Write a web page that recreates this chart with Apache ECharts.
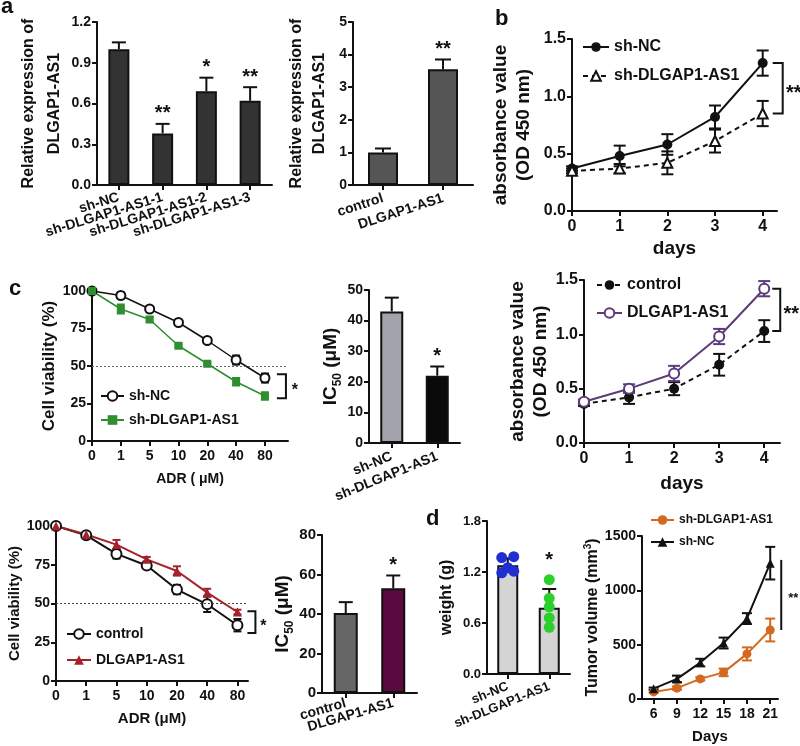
<!DOCTYPE html>
<html><head><meta charset="utf-8">
<script src="https://cdn.jsdelivr.net/npm/echarts@6/dist/echarts.min.js"></script>
<style>html,body{margin:0;padding:0;background:#fff}#c{width:800px;height:746px}</style>
</head><body><div id="c"></div>
<script>
// ---------------- DATA ----------------
// a (left): knockdown efficiency
const aCats = ['sh-NC', 'sh-DLGAP1-AS1-1', 'sh-DLGAP1-AS1-2', 'sh-DLGAP1-AS1-3'];
const aVals = [1.00, 0.38, 0.69, 0.62];
const aErrs = [0.05, 0.07, 0.10, 0.10];
const aSig  = ['', '**', '*', '**'];
// a (right): overexpression
const a2Cats = ['control', 'DLGAP1-AS1'];
const a2Vals = [1.00, 3.55];
const a2Errs = [0.12, 0.30];
const a2Sig  = ['', '**'];
// b: CCK-8 knockdown
const days = [0, 1, 2, 3, 4];
const bNC = [0.37, 0.48, 0.58, 0.82, 1.29];
const bNCErr = [0.02, 0.09, 0.09, 0.10, 0.11];
const bKD = [0.35, 0.37, 0.42, 0.61, 0.85];
const bKDErr = [0.02, 0.04, 0.10, 0.10, 0.11];
// c: viability knockdown
const adrLabels = ['0', '1', '5', '10', '20', '40', '80'];
const adrIdx = [0, 1, 2, 3, 4, 5, 6];
const cNC = [100, 97, 88, 79, 67, 54, 42];
const cNCErr = [0, 2, 1.5, 1, 1, 3, 3];
const cKD = [100, 88, 81, 63.5, 51.5, 39.5, 30];
const cKDErr = [0, 3, 1.5, 1, 1, 2.5, 2.5];
// c: IC50 knockdown
const icCats = ['sh-NC', 'sh-DLGAP1-AS1'];
const icVals = [43, 22];
const icErrs = [4.5, 3];
const icSig = ['', '*'];
// CCK-8 overexpression
const crCtrl = [0.36, 0.42, 0.50, 0.72, 1.03];
const crCtrlErr = [0.02, 0.06, 0.06, 0.10, 0.10];
const crOE = [0.38, 0.50, 0.64, 0.98, 1.42];
const crOEErr = [0.02, 0.04, 0.07, 0.07, 0.07];
// viability overexpression
const blCtrl = [100, 94, 82, 74.5, 59, 49.5, 36];
const blCtrlErr = [0, 1.5, 3, 1.5, 3, 5, 4];
const blOE = [100, 94.5, 88, 78.5, 71, 57, 44.5];
const blOEErr = [0, 1.5, 3, 1.5, 3, 2.5, 1.5];
// IC50 overexpression
const ic2Cats = ['control', 'DLGAP1-AS1'];
const ic2Vals = [40.5, 53];
const ic2Errs = [5.5, 6.5];
const ic2Sig = ['', '*'];
// d: tumour weight
const wCats = ['sh-NC', 'sh-DLGAP1-AS1'];
const wMean = [1.28, 0.78];
const wErr = [0.08, 0.22];
const wNC = [1.37, 1.38, 1.25, 1.21, 1.19];
const wKD = [1.11, 0.89, 0.79, 0.66, 0.55];
const wSig = ['', '*'];
// d: tumour volume
const tDays = [6, 9, 12, 15, 18, 21];
const tKD = [65, 100, 185, 245, 415, 635];
const tKDErr = [10, 15, 15, 35, 60, 105];
const tNC = [95, 185, 335, 515, 740, 1250];
const tNCErr = [10, 30, 35, 50, 50, 150];

// ---------------- STYLE / HELPERS ----------------
const FONT = '"Liberation Sans", Arial, Helvetica, sans-serif';
const INK = '#111';
const GREEN = '#2d8f2d', PURPLE = '#5e3a78', DRED = '#a3232a', MAGENTA = '#5a0a3f', ORANGE = '#d2691e';
const grids = [], xAxes = [], yAxes = [], series = [], legends = [];
const AXL = {show: true, onZero: false, lineStyle: {color: INK, width: 2}};
const tick = e => Object.assign({show: true, length: 5, lineStyle: {color: INK, width: 2}}, e || {});
const lab = (fs, e) => Object.assign({color: INK, fontWeight: 'bold', fontSize: fs, fontFamily: FONT}, e || {});
const ns = (fs, e) => Object.assign({color: INK, fontWeight: 'bold', fontSize: fs, fontFamily: FONT}, e || {});

function panel(box, xa, ya) {
  const gi = grids.length;
  grids.push({left: box[0], top: box[1], width: box[2], height: box[3]});
  xa.gridIndex = gi; ya.gridIndex = gi;
  xAxes.push(xa); yAxes.push(ya);
  return {x: xAxes.length - 1, y: yAxes.length - 1};
}
function catX(cats, fs, rot, margin) {
  return {type: 'category', data: cats, axisLine: AXL, axisTick: tick({alignWithLabel: true}),
    axisLabel: lab(fs, {interval: 0, rotate: rot, margin: margin || 8}), splitLine: {show: false}};
}
function valX(min, max, ticks, fs, fmt, name, gap, nfs) {
  return {type: 'value', min, max, axisLine: AXL, axisTick: tick({customValues: ticks}),
    axisLabel: lab(fs, {customValues: ticks, formatter: fmt, margin: 8}), splitLine: {show: false},
    name, nameLocation: 'middle', nameGap: gap, nameTextStyle: ns(nfs)};
}
function valY(min, max, interval, fs, fmt, name, gap, nstyle) {
  return {type: 'value', min, max, interval, axisLine: AXL, axisTick: tick(),
    axisLabel: lab(fs, {formatter: fmt, margin: 6}), splitLine: {show: false},
    name, nameLocation: 'middle', nameRotate: 90, nameGap: gap, nameTextStyle: nstyle};
}
function bars(p, vals, w, colors) {
  series.push({type: 'bar', xAxisIndex: p.x, yAxisIndex: p.y, barWidth: w, z: 2, silent: true,
    data: vals.map((v, i) => ({value: v, itemStyle: {color: colors[i % colors.length], borderColor: INK, borderWidth: 2}}))});
}
function errs(p, xs, ys, es, color, cap, both) {
  series.push({type: 'custom', xAxisIndex: p.x, yAxisIndex: p.y, z: 3, silent: true,
    encode: {x: 0, y: [1, 2]},
    data: xs.map((x, i) => [x, ys[i] - (both ? es[i] : 0), ys[i] + es[i]]),
    renderItem: (params, api) => {
      const a = api.coord([api.value(0), api.value(1)]), b = api.coord([api.value(0), api.value(2)]);
      if (Math.abs(a[1] - b[1]) < 0.5) return null;
      const st = {stroke: color, lineWidth: 2};
      const ch = [
        {type: 'line', shape: {x1: a[0], y1: a[1], x2: b[0], y2: b[1]}, style: st},
        {type: 'line', shape: {x1: b[0] - cap, y1: b[1], x2: b[0] + cap, y2: b[1]}, style: st}];
      if (both) ch.push({type: 'line', shape: {x1: a[0] - cap, y1: a[1], x2: a[0] + cap, y2: a[1]}, style: st});
      return {type: 'group', children: ch};
    }});
}
function sig(p, xs, tops, texts, fs, dy) {
  series.push({type: 'custom', xAxisIndex: p.x, yAxisIndex: p.y, z: 5, silent: true,
    encode: {x: 0, y: 1},
    data: xs.map((x, i) => [x, tops[i], i]),
    renderItem: (params, api) => {
      const t = texts[api.value(2)];
      if (!t) return null;
      const c = api.coord([api.value(0), api.value(1)]);
      return {type: 'text', x: c[0], y: c[1] - (dy || 0),
        style: {text: t, fill: INK, font: 'bold ' + fs + 'px ' + FONT, align: 'center', verticalAlign: 'bottom'}};
    }});
}
function bracket(p, x, yTop, yBot, o1, o2, text, fs, tx, caps) {
  series.push({type: 'custom', xAxisIndex: p.x, yAxisIndex: p.y, z: 5, silent: true,
    encode: {x: 0, y: [1, 2]},
    data: [[x, yTop, yBot]],
    renderItem: (params, api) => {
      const a = api.coord([api.value(0), api.value(1)]), b = api.coord([api.value(0), api.value(2)]);
      const st = {stroke: INK, lineWidth: 2, fill: null};
      const pts = caps ? [[a[0] + o1, a[1]], [a[0] + o2, a[1]], [a[0] + o2, b[1]], [a[0] + o1, b[1]]]
                       : [[a[0] + o2, a[1]], [a[0] + o2, b[1]]];
      return {type: 'group', children: [
        {type: 'polyline', shape: {points: pts}, style: st},
        {type: 'text', x: a[0] + o2 + tx, y: (a[1] + b[1]) / 2 + fs * 0.25,
          style: {text: text, fill: INK, font: 'bold ' + fs + 'px ' + FONT, align: 'center', verticalAlign: 'middle'}}]};
    }});
}
function line(p, name, xs, ys, color, symbol, size, dashed, width) {
  series.push({type: 'line', name, xAxisIndex: p.x, yAxisIndex: p.y, z: 4, silent: true,
    data: xs.map((x, i) => [x, ys[i]]), symbol, symbolSize: size, showAllSymbol: true,
    lineStyle: {color, width: width || 2, type: dashed ? [5, 4] : 'solid'},
    itemStyle: {color}});
}
function dots(p, cat, vals, spread, color, r) {
  series.push({type: 'custom', xAxisIndex: p.x, yAxisIndex: p.y, z: 6, silent: true,
    encode: {x: 0, y: 1},
    data: vals.map((v, i) => [cat, v, spread[i % spread.length]]),
    renderItem: (params, api) => {
      const c = api.coord([api.value(0), api.value(1)]);
      return {type: 'circle', shape: {cx: c[0] + api.value(2) * 6, cy: c[1], r}, style: {fill: color}};
    }});
}
function leg(names, left, top, fs, iw, gap) {
  legends.push({data: names, left, top, orient: 'vertical', padding: 0, itemWidth: iw, itemHeight: 12,
    itemGap: gap, selectedMode: false, formatter: n => n.split('|')[1],
    textStyle: {fontSize: fs, fontWeight: 'bold', color: INK, fontFamily: FONT}});
}
const f1 = v => v.toFixed(1);
const ic50Rich = (fs) => ({color: INK, fontFamily: FONT, rich: {
  a: {fontSize: fs, fontWeight: 'bold', color: INK, fontFamily: FONT, lineHeight: fs + 6},
  s: {fontSize: Math.round(fs * 0.65), fontWeight: 'bold', color: INK, fontFamily: FONT, verticalAlign: 'bottom', lineHeight: Math.round(fs * 0.65)}}});

// ---------------- PANELS ----------------
// a left
const pA = panel([97, 22, 175, 163], catX(aCats, 14, 17, 12),
  valY(0, 1.2, 0.3, 14, f1, 'Relative expression of\nDLGAP1-AS1', 26, ns(16, {lineHeight: 26})));
bars(pA, aVals, 21, ['#333']);
errs(pA, [0, 1, 2, 3], aVals, aErrs, INK, 7, false);
sig(pA, [0, 1, 2, 3], aVals.map((v, i) => v + aErrs[i]), aSig, 20, 0);

// a right
const pA2 = panel([353, 22, 120, 163], catX(a2Cats, 14, 18, 13),
  valY(0, 5, 1, 14, v => v, 'Relative expression of\nDLGAP1-AS1', 22, ns(16, {lineHeight: 23})));
bars(pA2, a2Vals, 30, ['#555']);
errs(pA2, [0, 1], a2Vals, a2Errs, INK, 8, false);
sig(pA2, [0, 1], a2Vals.map((v, i) => v + a2Errs[i]), a2Sig, 20, 0);

// b
const pB = panel([572, 39, 205, 172], valX(0, 4.3, days, 16, v => v, 'days', 28, 19),
  valY(0, 1.5, 0.5, 16, f1, 'absorbance value\n(OD 450 nm)', 37, ns(19, {lineHeight: 23})));
line(pB, 'b|sh-NC', days, bNC, INK, 'circle', 10, false);
line(pB, 'b|sh-DLGAP1-AS1', days, bKD, INK, 'emptyTriangle', 10, true);
errs(pB, days, bNC, bNCErr, INK, 6, true);
errs(pB, days, bKD, bKDErr, INK, 6, true);
bracket(pB, 4, bNC[4], bKD[4], 10, 20, '**', 20, 11, true);
leg(['b|sh-NC', 'b|sh-DLGAP1-AS1'], 582, 39, 16, 26, 13);

// c left viability
const pC = panel([92, 291, 196, 150], valX(0, 6.8, adrIdx, 14, v => adrLabels[v], 'ADR ( μM)', 31, 14),
  valY(0, 100, 25, 14, v => v, 'Cell viability (%)', 34, ns(17)));
line(pC, 'c|sh-NC', adrIdx, cNC, INK, 'emptyCircle', 9, false, 1.5);
line(pC, 'c|sh-DLGAP1-AS1', adrIdx, cKD, GREEN, 'rect', 8, false, 1.5);
series[series.length - 2].markLine = {silent: true, symbol: 'none', label: {show: false},
  lineStyle: {type: [2, 2], color: '#666', width: 1}, data: [{yAxis: 50}]};
errs(pC, adrIdx, cNC, cNCErr, INK, 4, true);
errs(pC, adrIdx, cKD, cKDErr, GREEN, 4, true);
bracket(pC, 6, 44.5, 28.5, 12, 21, '*', 16, 9, true);
leg(['c|sh-NC', 'c|sh-DLGAP1-AS1'], 100, 389, 14, 23, 10);

// c IC50
const pIC = panel([369, 290, 91, 153], catX(icCats, 14, 22, 13),
  valY(0, 50, 10, 14, v => v, '{a|IC}{s|50}{a| (μM)}', 25, ic50Rich(19)));
bars(pIC, icVals, 23, ['#a3a3ab', '#0a0a0a']);
errs(pIC, [0, 1], icVals, icErrs, INK, 7, false);
sig(pIC, [0, 1], icVals.map((v, i) => v + icErrs[i]), icSig, 20, 0);

// CCK-8 overexpression
const pCR = panel([584, 280, 196, 163], valX(0, 4.35, days, 16, v => v, 'days', 31, 19),
  valY(0, 1.5, 0.5, 16, f1, 'absorbance value\n(OD 450 nm)', 21, ns(19, {lineHeight: 23})));
line(pCR, 'r|control', days, crCtrl, INK, 'circle', 10, true);
line(pCR, 'r|DLGAP1-AS1', days, crOE, PURPLE, 'emptyCircle', 10, false);
errs(pCR, days, crCtrl, crCtrlErr, INK, 6, true);
errs(pCR, days, crOE, crOEErr, PURPLE, 6, true);
bracket(pCR, 4, crOE[4], crCtrl[4], 8, 16, '**', 20, 11, true);
leg(['r|control', 'r|DLGAP1-AS1'], 596, 277, 16, 25, 12);

// bottom viability
const pBL = panel([56, 526, 192, 155], valX(0, 6.35, adrIdx, 14, v => adrLabels[v], 'ADR (μM)', 30, 15),
  valY(0, 100, 25, 14, v => v, 'Cell viability (%)', 34, ns(15)));
line(pBL, 'l|control', adrIdx, blCtrl, INK, 'emptyCircle', 10, false);
line(pBL, 'l|DLGAP1-AS1', adrIdx, blOE, DRED, 'triangle', 9, false);
series[series.length - 2].markLine = {silent: true, symbol: 'none', label: {show: false},
  lineStyle: {type: [2, 2], color: '#444', width: 1}, data: [{yAxis: 50}]};
errs(pBL, adrIdx, blCtrl, blCtrlErr, INK, 4, true);
errs(pBL, adrIdx, blOE, blOEErr, DRED, 4, true);
bracket(pBL, 6, 45, 31, 10, 18, '*', 16, 8, true);
leg(['l|control', 'l|DLGAP1-AS1'], 66, 627, 14, 24, 12);

// bottom IC50
const pIC2 = panel([322, 535, 95, 158], catX(ic2Cats, 14, 16, 10),
  valY(0, 80, 20, 15, v => v, '{a|IC}{s|50}{a| (μM)}', 26, ic50Rich(19)));
bars(pIC2, ic2Vals, 24, ['#666666', MAGENTA]);
errs(pIC2, [0, 1], ic2Vals, ic2Errs, INK, 7, false);
sig(pIC2, [0, 1], ic2Vals.map((v, i) => v + ic2Errs[i]), ic2Sig, 20, 0);

// d weight
const pW = panel([487, 521, 83, 153], catX(wCats, 13, 22, 12),
  valY(0, 1.8, 0.6, 13, f1, 'weight (g)', 32, ns(16)));
bars(pW, wMean, 21, ['#d4d4d4']);
errs(pW, [0, 1], wMean, wErr, INK, 7, false);
dots(pW, 0, wNC, [-1, 1, 0, 1, -1], '#1f2fd1', 5.5);
dots(pW, 1, wKD, [0], '#2ccf2c', 5.5);
sig(pW, [0, 1], wMean.map((v, i) => v + wErr[i] + 0.22), wSig, 20, 0);

// d tumour volume
const pT = panel([642, 536, 136, 163], valX(4.5, 22, tDays, 14, v => v, 'Days', 30, 15),
  valY(0, 1500, 500, 14, v => v, '{a|Tumor volume (mm}{p|3}{a|)}', 35, {color: INK, rich: {
    a: {fontSize: 16, fontWeight: 'bold', color: INK, fontFamily: FONT, lineHeight: 20},
    p: {fontSize: 10, fontWeight: 'bold', color: INK, fontFamily: FONT, verticalAlign: 'top', lineHeight: 10}}}));
line(pT, 't|sh-DLGAP1-AS1', tDays, tKD, ORANGE, 'circle', 9, false);
line(pT, 't|sh-NC', tDays, tNC, INK, 'triangle', 9, false);
errs(pT, tDays, tKD, tKDErr, ORANGE, 5, true);
errs(pT, tDays, tNC, tNCErr, INK, 5, true);
bracket(pT, 21, 1280, 635, 11, 11, '**', 13, 12, false);
leg(['t|sh-DLGAP1-AS1', 't|sh-NC'], 650, 514, 12, 23, 10);

const letter = (t, l, tp) => ({text: t, left: l, top: tp, padding: 0,
  textStyle: {fontSize: 22, fontWeight: 'bold', color: INK, fontFamily: FONT}});

const chart = echarts.init(document.getElementById('c'), null, {renderer: 'canvas'});
chart.setOption({
  animation: false,
  backgroundColor: '#fff',
  textStyle: {fontFamily: FONT},
  title: [letter('a', 1, -4), letter('b', 495, 8), letter('c', 9, 278), letter('d', 426, 508)],
  grid: grids, xAxis: xAxes, yAxis: yAxes, legend: legends, series
});
</script></body></html>
